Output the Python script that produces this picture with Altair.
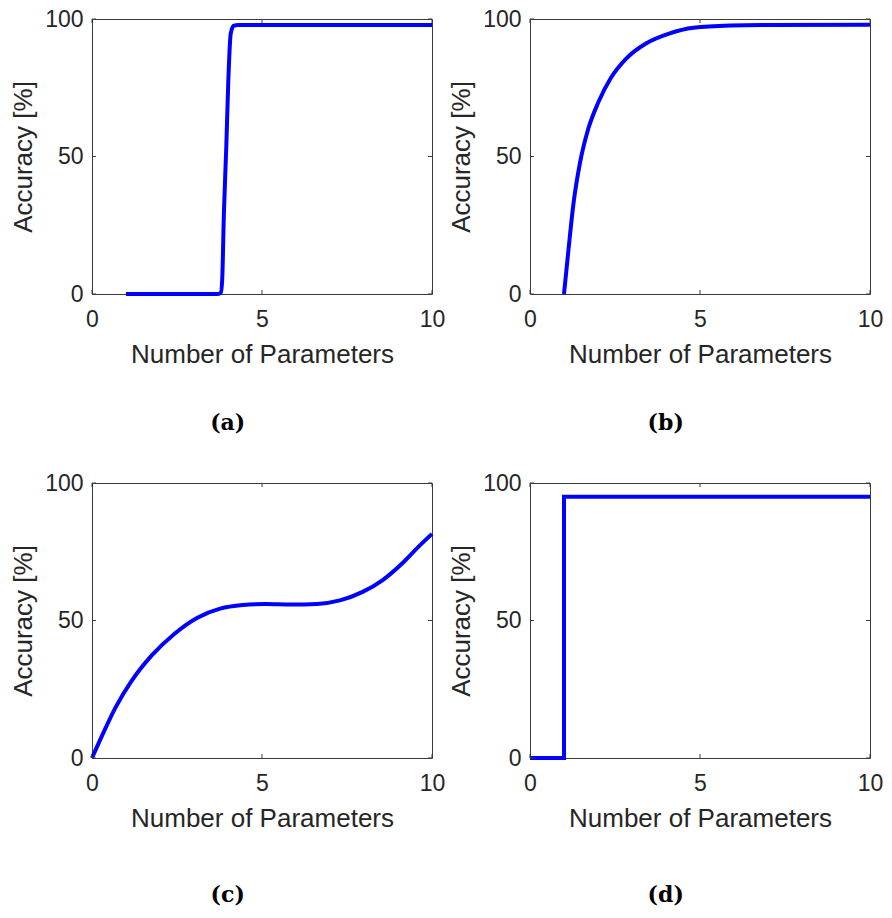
import altair as alt
import pandas as pd

# ---- data ----
X_TICKS = [0, 5, 10]
Y_TICKS = [0, 50, 100]

a_x = [1.0, 2.0, 3.0, 3.7, 3.79, 3.83, 3.88, 3.95, 4.01, 4.08, 4.17, 4.3, 5.0, 10.0]
a_y = [0, 0, 0, 0, 0.5, 5.4, 29.6, 53.7, 77.8, 94.7, 97.6, 97.8, 97.8, 97.8]

b_x = [1.0, 1.13, 1.28, 1.47, 1.71, 2.01, 2.39, 2.83, 3.41, 4.09, 4.81, 5.9, 7.0, 10.0]
b_y = [0, 15.9, 33.0, 47.7, 59.9, 69.7, 78.8, 85.6, 91.1, 94.7, 96.8, 97.6, 97.8, 97.9]

c_x = [0, 0.31, 0.69, 1.17, 1.75, 2.42, 3.10, 3.77, 4.44, 5.12, 5.85, 6.62, 7.29, 7.96, 8.54, 9.12, 9.60, 10.0]
c_y = [0, 8.5, 18.3, 28.1, 37.2, 45.1, 51.0, 54.3, 55.6, 56.0, 55.8, 56.0, 57.3, 60.4, 64.6, 70.7, 76.8, 81.5]

d_x = [0, 1, 1, 10]
d_y = [0, 0, 95, 95]

captions = ["(a)", "(b)", "(c)", "(d)"]

# ---- styling ----
W, H = 340, 275
TICK = 4
FRAME = "#3a3a3a"
TXT = "#262626"
LINE = "#0000FF"


def panel(xs, ys, caption, interp, cap_offset):
    df = pd.DataFrame({"x": xs, "y": ys})
    xsc = alt.Scale(domain=[0, 10], nice=False, zero=False)
    ysc = alt.Scale(domain=[0, 100], nice=False, zero=False)
    xax = alt.Axis(values=X_TICKS, title="Number of Parameters")
    yax = alt.Axis(values=Y_TICKS, title="Accuracy [%]")
    line = alt.Chart(df).mark_line(
        color=LINE, strokeWidth=4, interpolate=interp, clip=False
    ).encode(
        x=alt.X("x:Q", scale=xsc, axis=xax),
        y=alt.Y("y:Q", scale=ysc, axis=yax),
    )
    xt = pd.DataFrame({"x": X_TICKS})
    yt = pd.DataFrame({"y": Y_TICKS})
    rule = dict(color=FRAME, strokeWidth=1)
    tb = alt.Chart(xt).mark_rule(**rule).encode(
        x=alt.X("x:Q", scale=xsc, axis=xax), y=alt.value(H), y2=alt.value(H - TICK))
    tt = alt.Chart(xt).mark_rule(**rule).encode(
        x=alt.X("x:Q", scale=xsc, axis=xax), y=alt.value(0), y2=alt.value(TICK))
    tl = alt.Chart(yt).mark_rule(**rule).encode(
        y=alt.Y("y:Q", scale=ysc, axis=yax), x=alt.value(0), x2=alt.value(TICK))
    tr = alt.Chart(yt).mark_rule(**rule).encode(
        y=alt.Y("y:Q", scale=ysc, axis=yax), x=alt.value(W), x2=alt.value(W - TICK))
    return alt.layer(line, tb, tt, tl, tr).properties(
        width=W,
        height=H,
        title=alt.TitleParams(
            caption, orient="bottom", frame="bounds", anchor="middle", offset=cap_offset,
            font="DejaVu Serif", fontSize=22, fontWeight="bold", color="black",
        ),
    )


pa = panel(a_x, a_y, captions[0], "monotone", 46)
pb = panel(b_x, b_y, captions[1], "monotone", 46)
pc = panel(c_x, c_y, captions[2], "monotone", 54)
pd_ = panel(d_x, d_y, captions[3], "linear", 54)

chart = alt.vconcat(
    alt.hconcat(pa, pb, spacing=2),
    alt.hconcat(pc, pd_, spacing=2),
    spacing=36,
).properties(
    padding={"left": 2, "top": -1, "right": 0, "bottom": 0}
).configure_view(
    stroke=FRAME, strokeWidth=1
).configure_axis(
    grid=False, domain=False, ticks=False, tickSize=0, labelFlush=False,
    labelFont="Liberation Sans", labelFontSize=23, labelColor=TXT,
    titleFont="Liberation Sans", titleFontSize=26, titleFontWeight="normal", titleColor=TXT,
).configure_axisX(
    labelPadding=14, titlePadding=10
).configure_axisY(
    labelPadding=9, titlePadding=8
).configure_concat(spacing=2)

chart.save("out.html", embed_options={"renderer": "svg", "actions": False})
